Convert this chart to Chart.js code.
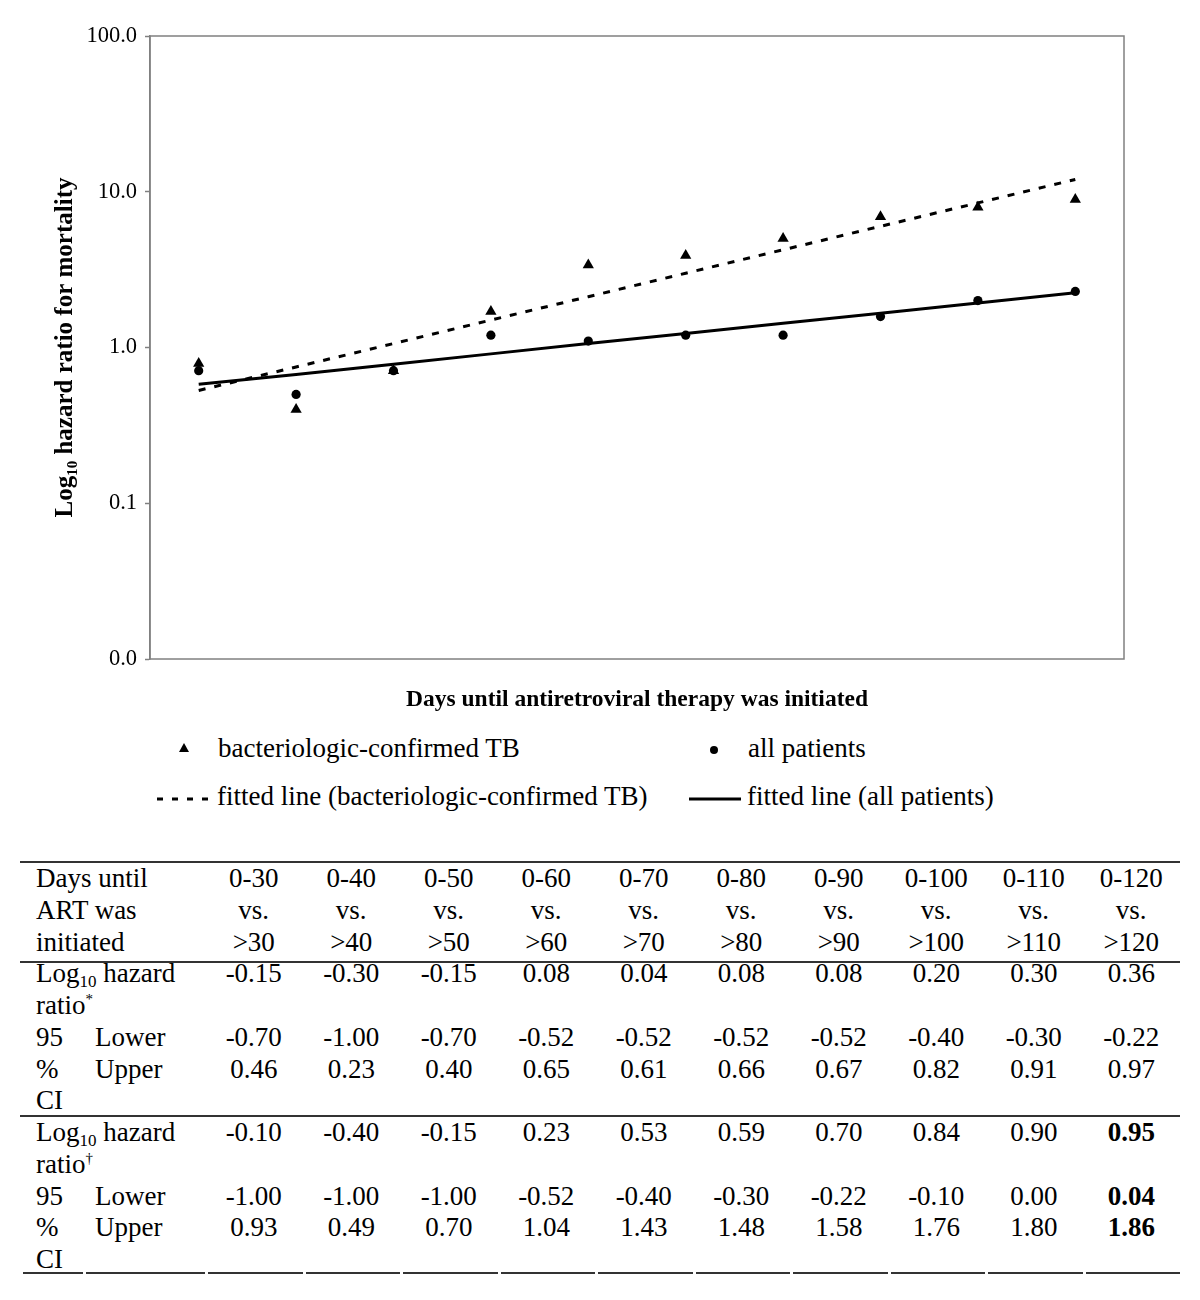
<!DOCTYPE html>
<html>
<head>
<meta charset="utf-8">
<script src="https://cdn.jsdelivr.net/npm/chart.js@4.4.1/dist/chart.umd.min.js"></script>
<style>
  body { margin: 0; background: #fff; font-family: "Liberation Serif", "Times New Roman", serif; color: #000; }
  #wrap { position: relative; width: 1200px; height: 1300px; }
  #chartBox { position: absolute; left: 0; top: 0; width: 1200px; height: 720px; }
  .lg { position: absolute; font-size: 27px; line-height: 31px; white-space: nowrap; }
  .lg svg { position: absolute; }
  .rule { position: absolute; left: 20px; width: 1160px; height: 2px; background: #333; }
  table.stats { position: absolute; left: 20px; top: 863px; width: 1160px; border-collapse: collapse; table-layout: fixed; font-size: 27px; }
  table.stats td { height: 31.75px; line-height: 31.75px; padding: 0; white-space: nowrap; text-align: center; vertical-align: middle; }
  table.stats td.lab { text-align: left; padding-left: 16px; }
  table.stats td.lab2 { text-align: left; padding-left: 12px; }
  table.stats sub { font-size: 17px; line-height: 0; vertical-align: -5px; }
  table.stats sup { font-size: 15px; line-height: 0; vertical-align: 10px; }
  table.stats tr.last td { background: linear-gradient(#333, #333) no-repeat; background-size: calc(100% - 3px) 2px; background-position: right 0 bottom 2px; }
  b { font-weight: bold; }
</style>
</head>
<body>
<div id="wrap">
  <div id="chartBox"><canvas id="c" width="1200" height="720"></canvas></div>

  <div class="lg" style="left:178px; top:733px;">
    <svg width="12" height="12" style="left:0; top:9px;"><polygon points="6,1 11,10 1,10" fill="#000"/></svg>
    <span style="position:absolute; left:40px;">bacteriologic-confirmed TB</span>
  </div>
  <div class="lg" style="left:708px; top:733px;">
    <svg width="12" height="12" style="left:0; top:11px;"><circle cx="6" cy="6" r="4" fill="#000"/></svg>
    <span style="position:absolute; left:40px;">all patients</span>
  </div>
  <div class="lg" style="left:157px; top:781px;">
    <svg width="60" height="8" style="left:0; top:14px;"><line x1="0" y1="4" x2="56" y2="4" stroke="#000" stroke-width="3" stroke-dasharray="6,9"/></svg>
    <span style="position:absolute; left:60px;">fitted line (bacteriologic-confirmed TB)</span>
  </div>
  <div class="lg" style="left:689px; top:781px;">
    <svg width="56" height="8" style="left:0; top:14px;"><line x1="0" y1="4" x2="52" y2="4" stroke="#000" stroke-width="3"/></svg>
    <span style="position:absolute; left:58px;">fitted line (all patients)</span>
  </div>

  <div class="rule" style="top:861px;"></div>
  <div class="rule" style="top:961px;"></div>
  <div class="rule" style="top:1115px;"></div>
  <table class="stats" id="stats"></table>
</div>

<script>
// days cutoffs (x categories, labels hidden on the chart)
const cutoffs = [30, 40, 50, 60, 70, 80, 90, 100, 110, 120];
const rangeLabels = ['0-30', '0-40', '0-50', '0-60', '0-70', '0-80', '0-90', '0-100', '0-110', '0-120'];
const overLabels = ['>30', '>40', '>50', '>60', '>70', '>80', '>90', '>100', '>110', '>120'];

// hazard ratios as plotted
const hrBact = [0.79, 0.40, 0.71, 1.70, 3.39, 3.89, 5.01, 6.92, 7.94, 8.91];
const hrAll = [0.71, 0.50, 0.71, 1.20, 1.10, 1.20, 1.20, 1.58, 2.00, 2.29];
// fitted (exponential trend) lines
const fitBact = [0.53, 0.75, 1.06, 1.50, 2.12, 3.00, 4.24, 6.00, 8.48, 12.0];
const fitAll = [0.58, 0.67, 0.78, 0.91, 1.06, 1.23, 1.43, 1.66, 1.93, 2.25];

const yTicks = [0.01, 0.1, 1, 10, 100];
const yTickLabels = ['0.0', '0.1', '1.0', '10.0', '100.0'];

// table values (log10 hazard ratio and 95% CI)
const logAll = ['-0.15', '-0.30', '-0.15', '0.08', '0.04', '0.08', '0.08', '0.20', '0.30', '0.36'];
const lowAll = ['-0.70', '-1.00', '-0.70', '-0.52', '-0.52', '-0.52', '-0.52', '-0.40', '-0.30', '-0.22'];
const upAll = ['0.46', '0.23', '0.40', '0.65', '0.61', '0.66', '0.67', '0.82', '0.91', '0.97'];
const logBact = ['-0.10', '-0.40', '-0.15', '0.23', '0.53', '0.59', '0.70', '0.84', '0.90', '0.95'];
const lowBact = ['-1.00', '-1.00', '-1.00', '-0.52', '-0.40', '-0.30', '-0.22', '-0.10', '0.00', '0.04'];
const upBact = ['0.93', '0.49', '0.70', '1.04', '1.43', '1.48', '1.58', '1.76', '1.80', '1.86'];

const serif = '"Liberation Serif", "Times New Roman", serif';

// frame round the plot area
const frame = {
  id: 'frame',
  afterDatasetsDraw(chart) {
    const a = chart.chartArea;
    const ctx = chart.ctx;
    ctx.save();
    ctx.strokeStyle = '#808080';
    ctx.lineWidth = 1.5;
    ctx.strokeRect(a.left, a.top, a.right - a.left, a.bottom - a.top);
    ctx.restore();
  }
};

new Chart(document.getElementById('c'), {
  type: 'line',
  data: {
    labels: cutoffs,
    datasets: [
      {
        label: 'fitted line (bacteriologic-confirmed TB)',
        data: fitBact,
        borderColor: '#000',
        borderWidth: 3,
        borderDash: [7, 9],
        pointRadius: 0,
        tension: 0
      },
      {
        label: 'fitted line (all patients)',
        data: fitAll,
        borderColor: '#000',
        borderWidth: 3,
        pointRadius: 0,
        tension: 0
      },
      {
        label: 'bacteriologic-confirmed TB',
        data: hrBact,
        showLine: false,
        pointStyle: 'triangle',
        pointRadius: 6.5,
        backgroundColor: '#000',
        borderColor: '#000',
        borderWidth: 0
      },
      {
        label: 'all patients',
        data: hrAll,
        showLine: false,
        pointStyle: 'circle',
        pointRadius: 4.6,
        backgroundColor: '#000',
        borderColor: '#000',
        borderWidth: 0
      }
    ]
  },
  options: {
    responsive: false,
    animation: false,
    devicePixelRatio: 1,
    layout: { padding: { top: 36, right: 76, left: 0, bottom: 0 } },
    plugins: { legend: { display: false }, tooltip: { enabled: false } },
    scales: {
      x: {
        type: 'category',
        offset: true,
        ticks: { display: false },
        grid: { display: false, drawTicks: false },
        border: { display: false },
        title: {
          display: true,
          text: 'Days until antiretroviral therapy was initiated',
          color: '#000',
          font: { family: serif, size: 23.5, weight: 'bold' },
          padding: { top: 0, bottom: 6 }
        },
        afterFit(scale) { scale.height = 61; }
      },
      y: {
        type: 'logarithmic',
        min: 0.01,
        max: 100,
        afterBuildTicks(scale) { scale.ticks = yTicks.map(v => ({ value: v })); },
        ticks: {
          color: '#000',
          padding: 8,
          font: { family: serif, size: 22.5 },
          callback(value, i) { return yTickLabels[i]; }
        },
        grid: { drawOnChartArea: false, drawTicks: true, tickLength: 5, tickColor: '#808080', tickWidth: 1.5 },
        border: { display: true, color: '#808080', width: 1.5 },
        title: {
          display: true,
          text: 'Log\u2081\u2080 hazard ratio for mortality',
          color: '#000',
          font: { family: serif, size: 25, weight: 'bold' },
          padding: { top: 51, bottom: 0 }
        },
        afterFit(scale) { scale.width = 150; }
      }
    }
  },
  plugins: [frame]
});

// table under the chart
function cells(arr, boldLast) {
  return arr.map((v, i) => '<td>' + (boldLast && i === arr.length - 1 ? '<b>' + v + '</b>' : v) + '</td>').join('');
}
const blanks = cutoffs.map(() => '<td></td>').join('');
let html = '<colgroup><col style="width:63px"><col style="width:122px">' +
  cutoffs.map(() => '<col style="width:97.5px">').join('') + '</colgroup>';
html += '<tr><td class="lab" colspan="2">Days until</td>' + cells(rangeLabels) + '</tr>';
html += '<tr><td class="lab" colspan="2">ART was</td>' + cells(cutoffs.map(() => 'vs.')) + '</tr>';
html += '<tr><td class="lab" colspan="2">initiated</td>' + cells(overLabels) + '</tr>';
html += '<tr><td class="lab" colspan="2">Log<sub>10</sub> hazard</td>' + cells(logAll) + '</tr>';
html += '<tr><td class="lab" colspan="2">ratio<sup>*</sup></td>' + blanks + '</tr>';
html += '<tr><td class="lab">95</td><td class="lab2">Lower</td>' + cells(lowAll) + '</tr>';
html += '<tr><td class="lab">%</td><td class="lab2">Upper</td>' + cells(upAll) + '</tr>';
html += '<tr><td class="lab">CI</td><td></td>' + blanks + '</tr>';
html += '<tr><td class="lab" colspan="2">Log<sub>10</sub> hazard</td>' + cells(logBact, true) + '</tr>';
html += '<tr><td class="lab" colspan="2">ratio<sup>&dagger;</sup></td>' + blanks + '</tr>';
html += '<tr><td class="lab">95</td><td class="lab2">Lower</td>' + cells(lowBact, true) + '</tr>';
html += '<tr><td class="lab">%</td><td class="lab2">Upper</td>' + cells(upBact, true) + '</tr>';
html += '<tr class="last"><td class="lab">CI</td><td></td>' + blanks + '</tr>';
document.getElementById('stats').innerHTML = html;
</script>
</body>
</html>
